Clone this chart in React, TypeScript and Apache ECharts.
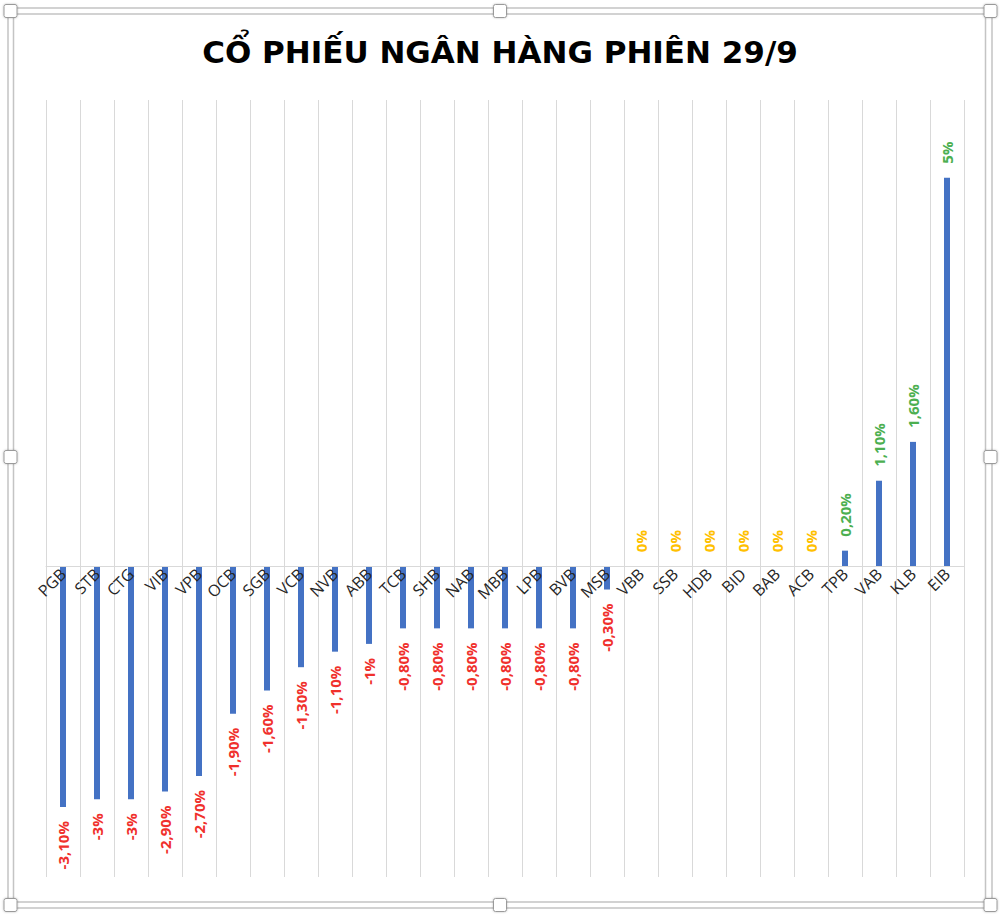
import React, { useEffect, useRef } from "react";
import * as echarts from "echarts";

const categories = [
  "PGB", "STB", "CTG", "VIB", "VPB", "OCB", "SGB", "VCB", "NVB", "ABB",
  "TCB", "SHB", "NAB", "MBB", "LPB", "BVB", "MSB", "VBB", "SSB", "HDB",
  "BID", "BAB", "ACB", "TPB", "VAB", "KLB", "EIB",
];
const changes = [
  -3.1, -3, -3, -2.9, -2.7, -1.9, -1.6, -1.3, -1.1, -1,
  -0.8, -0.8, -0.8, -0.8, -0.8, -0.8, -0.3, 0, 0, 0,
  0, 0, 0, 0.2, 1.1, 1.6, 5,
];
const title = "CỔ PHIẾU NGÂN HÀNG PHIÊN 29/9";
const yMin = -4;
const yMax = 6;

const RED = "#F0302C";
const GOLD = "#FFC000";
const GREEN = "#4CAF50";

const W = 1000;
const H = 917;
const GRID = { left: 46, right: 36, top: 100, bottom: 40 };

function fmt(v: number): string {
  if (Number.isInteger(v)) return `${v}%`;
  return v.toFixed(2).replace(".", ",") + "%";
}

export default function App() {
  const ref = useRef<HTMLDivElement>(null);
  useEffect(() => {
    document.body.style.margin = "0";
    if (!ref.current) return;
    const chart = echarts.init(ref.current, undefined, { renderer: "svg" });

    const plotH = H - GRID.top - GRID.bottom;
    // move the category axis (line + labels) up to the zero value
    const zeroOffset = -((0 - yMin) / (yMax - yMin)) * plotH;

    const data = changes.map((v) => {
      const color = v < 0 ? RED : v === 0 ? GOLD : GREEN;
      return {
        value: v,
        label: {
          show: true,
          position: v < 0 ? "bottom" : "top",
          rotate: 90,
          align: v < 0 ? "right" : "left",
          verticalAlign: "middle",
          distance: 14,
          color,
          fontWeight: "bold",
          fontSize: 15,
          fontFamily: "Open Sans",
          formatter: () => fmt(v),
        },
      };
    });

    const handle = (cx: number, cy: number) => ({
      type: "rect",
      shape: { x: cx - 6.5, y: cy - 6.5, width: 13, height: 13, r: 2 },
      style: {
        fill: "#ffffff",
        stroke: "#9a9a9a",
        lineWidth: 1,
        shadowBlur: 2,
        shadowColor: "rgba(0,0,0,0.25)",
      },
      z: 10,
    });

    chart.setOption({
      animation: false,
      backgroundColor: "#ffffff",
      title: {
        text: title,
        left: "center",
        top: 31,
        textStyle: {
          fontFamily: "DejaVu Sans",
          fontWeight: "bold",
          fontSize: 31,
          color: "#000000",
        },
      },
      grid: GRID,
      xAxis: {
        type: "category",
        data: categories,
        position: "bottom",
        offset: zeroOffset,
        z: 5,
        axisLine: {
          show: true,
          onZero: false,
          lineStyle: { color: "#D9D9D9", width: 1 },
        },
        axisTick: { show: false },
        splitLine: { show: true, lineStyle: { color: "#D9D9D9", width: 1 } },
        axisLabel: {
          interval: 0,
          rotate: 45,
          margin: 5,
          fontSize: 16,
          fontFamily: "Open Sans",
          color: "#262626",
        },
      },
      yAxis: {
        type: "value",
        min: yMin,
        max: yMax,
        show: false,
        splitLine: { show: false },
      },
      series: [
        {
          type: "bar",
          data,
          barWidth: 6,
          z: 2,
          itemStyle: { color: "#4472C4" },
        },
      ],
      graphic: [
        {
          type: "rect",
          shape: { x: 8, y: 8, width: 984, height: 900 },
          style: { fill: "none", stroke: "#C4C4C4", lineWidth: 1.5 },
          z: 5,
        },
        {
          type: "rect",
          shape: { x: 13.5, y: 14, width: 972, height: 888 },
          style: { fill: "none", stroke: "#C4C4C4", lineWidth: 1.5 },
          z: 5,
        },
        handle(10.5, 11),
        handle(500, 11),
        handle(990.5, 11),
        handle(10.5, 457),
        handle(990.5, 457),
        handle(10.5, 905),
        handle(500, 905),
        handle(990.5, 905),
      ],
    });
    return () => chart.dispose();
  }, []);
  return <div ref={ref} style={{ width: W, height: H }} />;
}
